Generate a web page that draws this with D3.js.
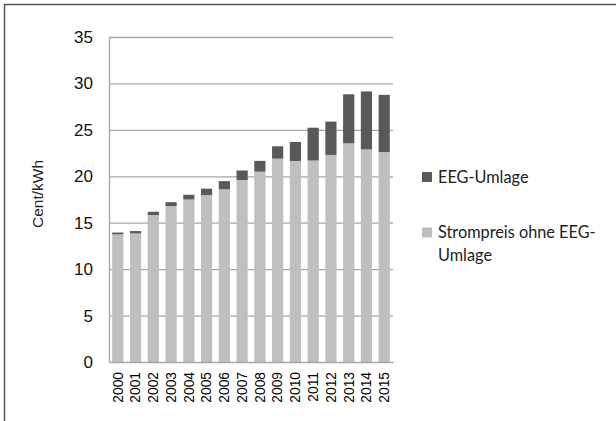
<!DOCTYPE html>
<html lang="de">
<head>
<meta charset="UTF-8">
<title>Strompreis und EEG-Umlage</title>
<style>
  body { margin: 0; background: #fff; }
  svg { display: block; }
  .tick text { font-family: "Liberation Sans", Arial, sans-serif; }
</style>
</head>
<body>
<svg width="616" height="421"></svg>
<script src="https://cdn.jsdelivr.net/npm/d3@7"></script>
<script>
var years = ["2000","2001","2002","2003","2004","2005","2006","2007",
             "2008","2009","2010","2011","2012","2013","2014","2015"];
var strompreis = [13.74, 13.85, 15.83, 16.8, 17.5, 17.98, 18.6, 19.6,
                  20.5, 21.9, 21.65, 21.7, 22.3, 23.55, 22.9, 22.6];
var eegUmlage  = [0.2, 0.25, 0.35, 0.41, 0.51, 0.69, 0.88, 1.02,
                  1.16, 1.33, 2.05, 3.53, 3.59, 5.28, 6.24, 6.17];
var yTicks = [0, 5, 10, 15, 20, 25, 30, 35];
var seriesNames = ["Strompreis ohne EEG-Umlage", "EEG-Umlage"];
var seriesColors = ["#bfbfbf", "#595959"];

var svg = d3.select("svg");
var margin = {top: 37, left: 109, right: 223, bottom: 59};
var width = 616 - margin.left - margin.right,
    height = 421 - margin.top - margin.bottom;

// outer frame
svg.append("rect")
  .attr("x", 4.5).attr("y", 4.5)
  .attr("width", 640).attr("height", 440)
  .attr("fill", "none").attr("stroke", "#555").attr("stroke-width", 1.5);

var g = svg.append("g").attr("transform", "translate(" + margin.left + "," + margin.top + ")");

var x = d3.scaleBand().domain(years).range([0, width]).paddingInner(0.37).paddingOuter(0.18);
var y = d3.scaleLinear().domain([0, 35]).range([height, 0]);

var rows = years.map(function(yr, i) {
  return {year: yr, base: strompreis[i], eeg: eegUmlage[i]};
});
var stack = d3.stack().keys(["base", "eeg"])(rows);

// gridlines
g.append("g")
  .selectAll("line")
  .data(yTicks.slice(1))
  .enter().append("line")
    .attr("x1", 0).attr("x2", width)
    .attr("y1", function(d) { return y(d) + 0.5; })
    .attr("y2", function(d) { return y(d) + 0.5; })
    .attr("stroke", "#a6a6a6").attr("stroke-width", 1.3);

// bars
g.selectAll(".layer")
  .data(stack)
  .enter().append("g")
    .attr("class", "layer")
    .attr("fill", function(d, i) { return seriesColors[i]; })
  .selectAll("rect")
  .data(function(d) { return d; })
  .enter().append("rect")
    .attr("x", function(d) { return x(d.data.year); })
    .attr("y", function(d) { return y(d[1]); })
    .attr("width", x.bandwidth())
    .attr("height", function(d) { return y(d[0]) - y(d[1]); });

// y axis
var yAxis = g.append("g")
  .call(d3.axisLeft(y).tickValues(yTicks).tickSize(0).tickPadding(16));
yAxis.select(".domain").attr("stroke", "#a6a6a6").attr("stroke-width", 1.3);
yAxis.selectAll("text").attr("font-size", 17).attr("fill", "#111");

// x axis
var xAxis = g.append("g")
  .attr("transform", "translate(0," + height + ")")
  .call(d3.axisBottom(x).tickSize(0));
xAxis.select(".domain").attr("stroke", "#a6a6a6").attr("stroke-width", 1.3);
xAxis.selectAll("text")
  .attr("font-size", 13.8).attr("fill", "#000")
  .attr("transform", "rotate(-90)")
  .attr("text-anchor", "end")
  .attr("x", -10).attr("y", 0).attr("dy", "0.35em");

// y label
svg.append("text")
  .attr("transform", "translate(43,194) rotate(-90)")
  .attr("text-anchor", "middle")
  .attr("font-family", "Liberation Sans, Arial, sans-serif")
  .attr("font-size", 15.5).attr("fill", "#222")
  .text("Cent/kWh");

// legend
var legendItems = [
  {name: ["EEG-Umlage"], color: seriesColors[1], y: 177},
  {name: ["Strompreis ohne EEG-", "Umlage"], color: seriesColors[0], y: 232.5}
];
var legend = svg.append("g").selectAll("g")
  .data(legendItems)
  .enter().append("g")
    .attr("transform", function(d) { return "translate(422," + d.y + ")"; });
legend.append("rect")
  .attr("x", 0).attr("y", -5).attr("width", 10).attr("height", 10)
  .attr("fill", function(d) { return d.color; });
legend.append("text")
  .attr("font-family", "Lato, 'Open Sans', sans-serif")
  .attr("font-size", 16.3).attr("fill", "#222")
  .selectAll("tspan")
  .data(function(d) { return d.name; })
  .enter().append("tspan")
    .attr("x", 16)
    .attr("y", function(d, i) { return 5.5 + i * 22.7; })
    .text(function(d) { return d; });
</script>
</body>
</html>
